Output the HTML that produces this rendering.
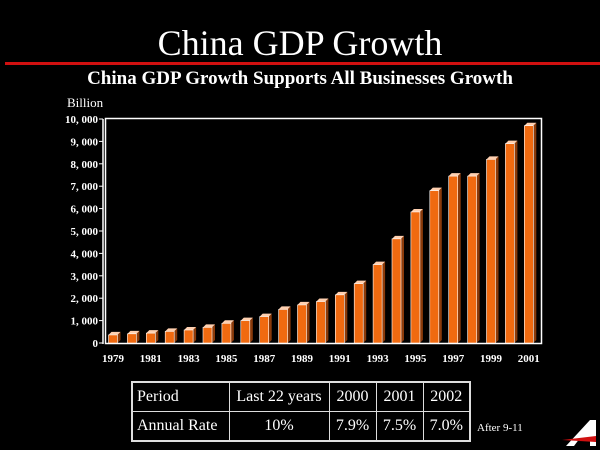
<!DOCTYPE html><html><head><style>
body{margin:0;width:600px;height:450px;background:#000;overflow:hidden;position:relative;font-family:"Liberation Serif",serif;color:#fff}
.t{position:absolute;left:0;width:600px;text-align:center}
table{position:absolute;left:131px;top:381px;border-collapse:collapse;border:2px solid #ddd;font-size:16px;table-layout:fixed;width:338px}
td{border:1px solid #ddd;height:28px;padding:0 4px;color:#fff;white-space:nowrap}
.c{text-align:center;padding:0}
</style></head><body>
<div class="t" style="top:22px;font-size:36px">China GDP Growth</div>
<div style="position:absolute;left:5px;top:62px;width:595px;height:3px;background:#d01010"></div>
<div class="t" style="top:68px;font-size:19px;font-weight:bold">China GDP Growth Supports All Businesses Growth</div>
<div style="position:absolute;left:67px;top:95px;font-size:13px">Billion</div>
<svg width="600" height="450" style="position:absolute;left:0;top:0">
<g font-family="Liberation Serif" font-weight="bold" font-size="11" fill="#fff" text-anchor="end" id="yax"></g>
<rect x="105.5" y="118.5" width="436" height="225" fill="none" stroke="#fff" stroke-width="1.5"/>
<line x1="103" y1="119" x2="103" y2="344" stroke="#fff" stroke-width="1.5"/>
<g id="bars"></g>
<g font-family="Liberation Serif" font-weight="bold" font-size="11" fill="#fff" text-anchor="middle" id="xax"></g>
</svg>
<table><colgroup><col style="width:97px"><col style="width:100px"><col style="width:47px"><col style="width:47px"><col style="width:47px"></colgroup>
<tr><td>Period</td><td class="c">Last 22 years</td><td class="c">2000</td><td class="c">2001</td><td class="c">2002</td></tr>
<tr><td>Annual Rate</td><td class="c">10%</td><td class="c">7.9%</td><td class="c">7.5%</td><td class="c">7.0%</td></tr></table>
<div style="position:absolute;left:477px;top:422px;font-size:11px">After 9-11</div>
<svg width="40" height="30" style="position:absolute;left:560px;top:418px"><polygon points="30,2 36,2 36,28 30,28 30,20 20,20 14,28 6,28" fill="#fff"/><polygon points="2,22 36,18 36,24" fill="#d01010"/></svg>
<script>
(function(){
var ns="http://www.w3.org/2000/svg";function el(p,t,a,tx){var e=document.createElementNS(ns,t);for(var k in a)e.setAttribute(k,a[k]);if(tx)e.textContent=tx;document.getElementById(p).appendChild(e);}
var y0=343,s=22.4/1000;
for(var i=0;i<=10;i++){var yy=y0-i*1000*s;el("yax","text",{x:98,y:yy+4},i==0?"0":(i*1000).toLocaleString("en").replace(",",", "));el("yax","line",{x1:99,y1:yy,x2:103,y2:yy,stroke:"#fff"});}
var v=[360,410,440,520,580,700,880,1000,1180,1500,1700,1850,2150,2650,3500,4650,5850,6800,7450,7450,8200,8900,9700];
for(var i=0;i<23;i++){var cx=113+i*18.9,h=v[i]*s,tp=y0-h;
el("bars","polygon",{points:(cx+4.5)+","+y0+" "+(cx+7.5)+","+(y0-3)+" "+(cx+7.5)+","+(tp-3)+" "+(cx+4.5)+","+tp,fill:"#8a3a0a"});
el("bars","polygon",{points:(cx-4.5)+","+tp+" "+(cx-1.5)+","+(tp-3)+" "+(cx+7.5)+","+(tp-3)+" "+(cx+4.5)+","+tp,fill:"#ffd0b0"});
el("bars","rect",{x:cx-4.5,y:tp,width:9,height:h,fill:"#f06a10",stroke:"#fff","stroke-width":0.6});
if(i%2==0)el("xax","text",{x:cx,y:362},String(1979+i));}
})();
</script>
</body></html>
